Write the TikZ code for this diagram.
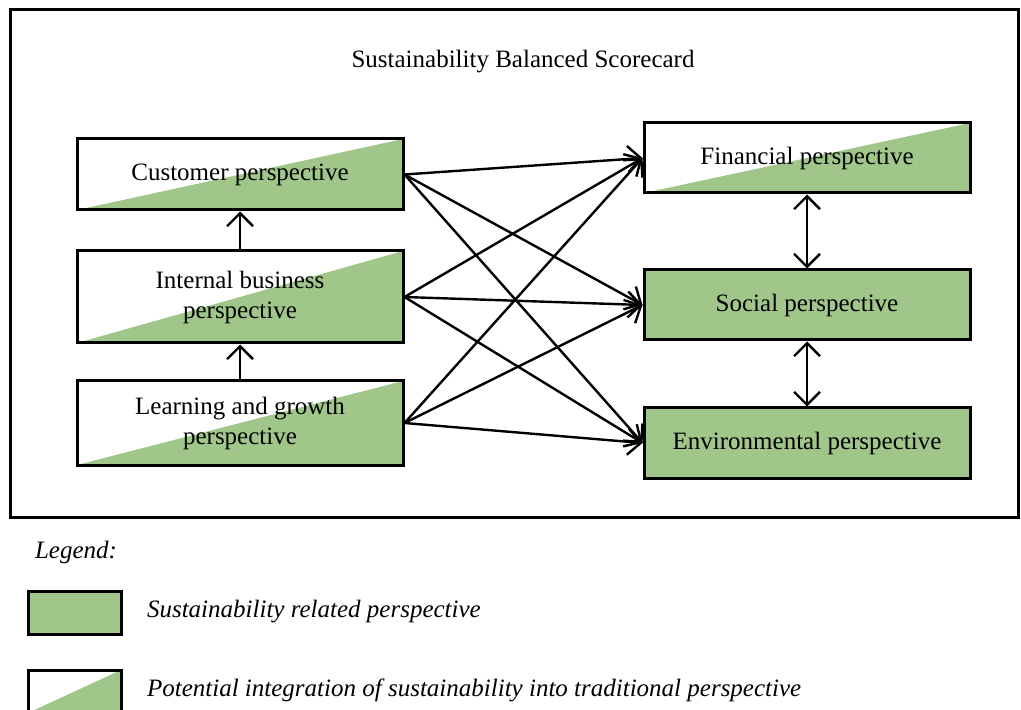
\documentclass[tikz,border=0pt]{standalone}
\usepackage{fontspec}
\setmainfont{Liberation Serif}
\usepackage{tikz}
\usetikzlibrary{arrows.meta,positioning}

\definecolor{sbgreen}{RGB}{160,198,138}

\begin{document}
\begin{tikzpicture}[x=0.5pt,y=-0.5pt,
        txt/.style={font=\fontsize{12.5}{15}\selectfont},
        persp/.style={draw,line width=1.5pt,minimum width=163pt,inner sep=2pt,
                      align=center,txt},
        fullbox/.style={persp,fill=sbgreen},
        partbox/.style={persp,path picture={
                \fill[sbgreen] (path picture bounding box.south west)
                    -- (path picture bounding box.north east)
                    -- (path picture bounding box.south east) -- cycle;}},
        link/.style={line width=1.2pt,-{Straight Barb[length=6.5pt,width=13pt,line width=1.2pt]}},
        both/.style={line width=1.2pt,{Straight Barb[length=6.5pt,width=13pt,line width=1.2pt]}-{Straight Barb[length=6.5pt,width=13pt,line width=1.2pt]}}
    ]
            \useasboundingbox (0,0) rectangle (1021,710);
            \draw[line width=1.5pt] (10,10) rectangle (1018,517);

            \node[txt] (title) at (523,62) {Sustainability Balanced Scorecard};

            % traditional perspectives
            \node[partbox,minimum height=35.5pt] (cust) at (240,174.5) {Customer perspective};
            \node[partbox,minimum height=46pt] (intern) at (240,297) {Internal business\\perspective};
            \node[partbox,minimum height=42pt] (learn) at (240,423) {Learning and growth\\perspective};

            % sustainability perspectives
            \node[partbox,minimum height=35pt] (fin) at (807,158) {Financial perspective};
            \node[fullbox,minimum height=35pt] (soc) at (807,305) {Social perspective};
            \node[fullbox,minimum height=35pt] (env) at (807,443) {Environmental perspective};

            \draw[link] (intern) -- (cust);
            \draw[link] (learn) -- (intern);
            \draw[both] (fin) -- (soc);
            \draw[both] (soc) -- (env);

            \foreach \a in {cust,intern,learn}
                \foreach \b in {fin,soc,env}
                    \draw[link] (\a.east) -- (\b.west);

            % legend
            \node[txt,font=\fontsize{12.5}{15}\selectfont\itshape,anchor=west] (leg) at (28,552) {Legend:};
            \node[fullbox,minimum width=46.5pt,minimum height=21.5pt] (legfull) at (74.5,612.5) {};
            \node[partbox,minimum width=46.5pt,minimum height=21.5pt] (legpart) at (74.5,691.5) {};
            \node[txt,font=\fontsize{12.5}{15}\selectfont\itshape,anchor=west] (legfulltxt) at (140,612) {Sustainability related perspective};
            \node[txt,font=\fontsize{12.5}{15}\selectfont\itshape,anchor=west] (legparttxt) at (140,690) {Potential integration of sustainability into traditional perspective};
\end{tikzpicture}
\end{document}
